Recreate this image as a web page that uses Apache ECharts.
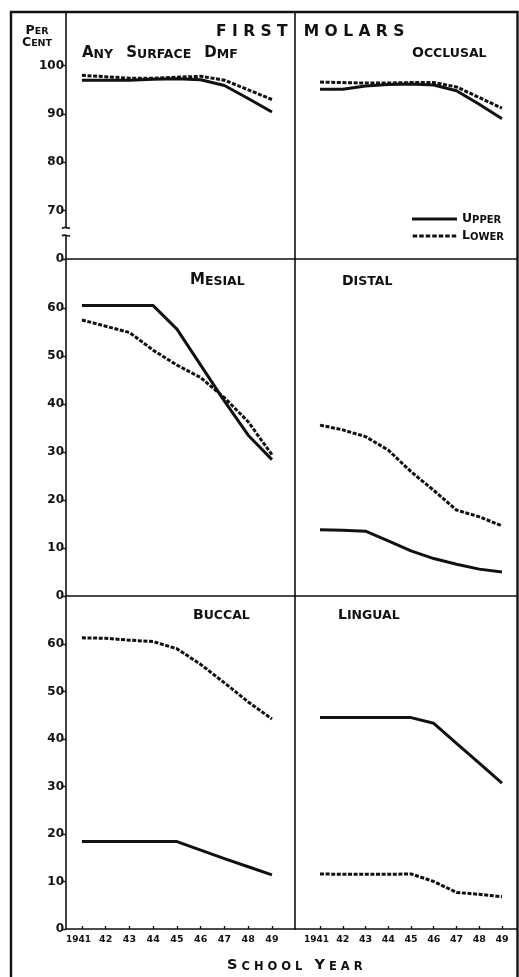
<!DOCTYPE html>
<html>
<head>
<meta charset="utf-8">
<script src="https://cdn.jsdelivr.net/npm/echarts@6/dist/echarts.min.js"></script>
<style>
html,body{margin:0;padding:0;background:#fff;}
#main{width:519px;height:977px;}
</style>
</head>
<body>
<div id="main"></div>
<script>
// school years on the x axis
var years = [1941, 1942, 1943, 1944, 1945, 1946, 1947, 1948, 1949];

// per cent of first molars
var anyUpper = [97.0, 97.0, 97.0, 97.2, 97.3, 97.1, 95.9, 93.2, 90.4];
var anyLower = [98.0, 97.7, 97.4, 97.4, 97.6, 97.8, 97.0, 95.0, 93.0];
var occUpper = [95.1, 95.1, 95.8, 96.1, 96.2, 96.0, 94.8, 92.0, 89.0];
var occLower = [96.6, 96.5, 96.4, 96.4, 96.5, 96.5, 95.6, 93.4, 91.2];
var mesUpper = [60.5, 60.5, 60.5, 60.5, 55.6, 48.1, 40.6, 33.5, 28.4];
var mesLower = [57.5, 56.2, 54.9, 51.2, 48.1, 45.5, 41.3, 36.3, 29.4];
var disUpper = [13.8, 13.7, 13.5, 11.5, 9.4, 7.8, 6.6, 5.6, 5.0];
var disLower = [35.6, 34.6, 33.2, 30.4, 25.9, 22.0, 17.9, 16.5, 14.6];
var bucUpper = [18.4, 18.4, 18.4, 18.4, 18.4, 16.6, 14.8, 13.1, 11.4];
var bucLower = [61.3, 61.2, 60.8, 60.5, 59.0, 55.7, 51.8, 47.8, 44.2];
var linUpper = [44.5, 44.5, 44.5, 44.5, 44.5, 43.3, 39.1, 34.9, 30.7];
var linLower = [11.6, 11.5, 11.5, 11.5, 11.6, 10.0, 7.7, 7.3, 6.8];

// tick labels
var topTicks = [60, 70, 80, 90, 100];   // 60 is shown as the broken-axis "0"
var lowTicks = [0, 10, 20, 30, 40, 50, 60];

var ink = '#111';
var font = 'DejaVu Sans';

// small caps: first letter of each word big, rest small
function sc(text){
	return text.split(' ').map(function(w){
		if (w === '') return '{s| }';
		return '{b|' + w.charAt(0) + '}' + (w.length > 1 ? '{s|' + w.slice(1) + '}' : '');
	}).join('{s| }');
}
function capTitle(text, left, top, big, small){
	return {
		text: sc(text), left: left, top: top, padding: 0,
		textStyle: {
			rich: {
				b: {fontFamily: font, fontWeight: 'bold', fontSize: big, color: ink, verticalAlign: 'bottom', lineHeight: big},
				s: {fontFamily: font, fontWeight: 'bold', fontSize: small, color: ink, verticalAlign: 'bottom', lineHeight: big}
			}
		}
	};
}

var grids = [
	{left: 66, top: 12, width: 229, height: 247},
	{left: 295, top: 12, width: 222, height: 247},
	{left: 66, top: 259, width: 229, height: 337},
	{left: 295, top: 259, width: 222, height: 337},
	{left: 66, top: 596, width: 229, height: 333},
	{left: 295, top: 596, width: 222, height: 333}
];

function xAx(g, min, max, show){
	return {
		type: 'value', gridIndex: g, min: min, max: max,
		axisLine: {show: true, onZero: false, lineStyle: {color: ink, width: 1.6}},
		axisTick: {show: show, inside: true, length: 3, customValues: years, lineStyle: {color: ink, width: 1.3}},
		axisLabel: {
			show: show, customValues: years, margin: 6, hideOverlap: false,
			fontFamily: font, fontWeight: 'bold', fontSize: 9.5, color: ink,
			formatter: function(v){ return v === 1941 ? '{w|1941}' : String(v).slice(2); },
			rich: {w: {fontFamily: font, fontWeight: 'bold', fontSize: 9, color: ink, padding: [0, 7, 0, 0]}}
		},
		splitLine: {show: false}
	};
}
function yAx(g, min, max, ticks, show){
	return {
		type: 'value', gridIndex: g, min: min, max: max,
		axisLine: {show: true, onZero: false, lineStyle: {color: ink, width: 1.6}},
		axisTick: {show: show, length: 4, customValues: ticks, lineStyle: {color: ink, width: 1.4}},
		axisLabel: {
			show: show, customValues: ticks, margin: 2,
			fontFamily: font, fontWeight: 'bold', fontSize: 12, color: ink,
			formatter: function(v){ return (g === 0 && v === 60) ? '0' : String(v); }
		},
		splitLine: {show: false}
	};
}

function pairs(vals){
	return years.map(function(y, i){ return [y, vals[i]]; });
}
function line(name, vals, g, dashed){
	return {
		name: name, type: 'line', xAxisIndex: g, yAxisIndex: g,
		data: pairs(vals), symbol: 'none', silent: true,
		itemStyle: {color: ink},
		lineStyle: dashed ? {color: ink, width: 3, type: [4, 1.6], cap: 'butt'} : {color: ink, width: 3},
		z: dashed ? 3 : 2
	};
}

// legend icons: a solid bar and a row of short dashes
var solidIcon = 'path://M0,0h45v3h-45z';
var dashIcon = 'path://';
for (var k = 0; k < 7; k++) dashIcon += 'M' + (k * 6.5) + ',0h4.5v3h-4.5z';

var option = {
	animation: false,
	backgroundColor: '#fff',
	grid: grids,
	xAxis: [
		xAx(0, 1940.33, 1949.97, false), xAx(1, 1939.9, 1949.66, false),
		xAx(2, 1940.33, 1949.97, false), xAx(3, 1939.9, 1949.66, false),
		xAx(4, 1940.33, 1949.97, true), xAx(5, 1939.9, 1949.66, true)
	],
	yAxis: [
		yAx(0, 60, 111.1, topTicks, true), yAx(1, 60, 111.1, topTicks, false),
		yAx(2, 0, 70.2, lowTicks, true), yAx(3, 0, 70.2, lowTicks, false),
		yAx(4, 0, 70.1, lowTicks, true), yAx(5, 0, 70.1, lowTicks, false)
	],
	title: [
		{text: 'F I R S T   M O L A R S', left: 216, top: 24, padding: 0,
			textStyle: {fontFamily: font, fontWeight: 'bold', fontSize: 15.5, color: ink}},
		{text: '{b|P}{s|ER}\n{b|C}{s|ENT}', left: 37, top: 25, padding: 0, textAlign: 'center',
			textStyle: {align: 'center', rich: {
				b: {fontFamily: font, fontWeight: 'bold', fontSize: 12.5, color: ink, lineHeight: 12, verticalAlign: 'bottom'},
				s: {fontFamily: font, fontWeight: 'bold', fontSize: 9.5, color: ink, lineHeight: 12, verticalAlign: 'bottom'}
			}}},
		{text: '{b|S}{s| C H O O L   }{b|Y}{s| E A R}', left: 227, top: 958, padding: 0,
			textStyle: {rich: {
				b: {fontFamily: font, fontWeight: 'bold', fontSize: 14.5, color: ink, lineHeight: 15, verticalAlign: 'bottom'},
				s: {fontFamily: font, fontWeight: 'bold', fontSize: 11.5, color: ink, lineHeight: 15, verticalAlign: 'bottom'}
			}}},
		capTitle('ANY  SURFACE  DMF', 82, 46, 15, 12.5),
		capTitle('OCCLUSAL', 412, 46, 14, 12.5),
		capTitle('MESIAL', 190, 273, 15, 12.5),
		capTitle('DISTAL', 342, 274, 14, 12.5),
		capTitle('BUCCAL', 193, 608, 14, 12.5),
		capTitle('LINGUAL', 338, 608, 14, 12.5)
	],
	legend: {
		data: [{name: 'Upper', icon: solidIcon}, {name: 'Lower', icon: dashIcon}],
		orient: 'vertical', right: 15, top: 212,
		itemWidth: 45, itemHeight: 3, itemGap: 4, selectedMode: false, padding: 0,
		itemStyle: {color: ink, borderWidth: 0},
		formatter: function(n){ return n === 'Upper' ? '{b|U}{s|PPER}' : '{b|L}{s|OWER}'; },
		textStyle: {rich: {
			b: {fontFamily: font, fontWeight: 'bold', fontSize: 12.5, color: ink, lineHeight: 12, verticalAlign: 'bottom'},
			s: {fontFamily: font, fontWeight: 'bold', fontSize: 10, color: ink, lineHeight: 12, verticalAlign: 'bottom'}
		}}
	},
	series: [
		line('Upper', anyUpper, 0, false), line('Lower', anyLower, 0, true),
		line('Upper', occUpper, 1, false), line('Lower', occLower, 1, true),
		line('Upper', mesUpper, 2, false), line('Lower', mesLower, 2, true),
		line('Upper', disUpper, 3, false), line('Lower', disLower, 3, true),
		line('Upper', bucUpper, 4, false), line('Lower', bucLower, 4, true),
		line('Upper', linUpper, 5, false), line('Lower', linLower, 5, true)
	]
};

var chart = echarts.init(document.getElementById('main'), null, {renderer: 'canvas'});
chart.setOption(option);

// frame and the break in the top y axis
var b1 = chart.convertToPixel({gridIndex: 0}, [1940.33, 66.5]);
var b2 = chart.convertToPixel({gridIndex: 0}, [1940.33, 64.8]);
var ax = grids[0].left;
chart.setOption({
	graphic: [
		{type: 'polyline', shape: {points: [[11, 977], [11, 12], [517.5, 12], [517.5, 977]]},
			style: {stroke: ink, lineWidth: 2.4, fill: null}, z: 10},
		{type: 'rect', shape: {x: ax - 3, y: b1[1], width: 6, height: b2[1] - b1[1]},
			style: {fill: '#fff'}, z: 10},
		{type: 'bezierCurve', shape: {x1: ax - 4, y1: b1[1] + 1, cpx1: ax - 1, cpy1: b1[1] - 2, x2: ax + 4, y2: b1[1], cpx2: ax + 1, cpy2: b1[1] + 2},
			style: {stroke: ink, lineWidth: 1.6, fill: null}, z: 11},
		{type: 'bezierCurve', shape: {x1: ax - 4, y1: b2[1], cpx1: ax - 1, cpy1: b2[1] - 2, x2: ax + 4, y2: b2[1], cpx2: ax + 1, cpy2: b2[1] + 1},
			style: {stroke: ink, lineWidth: 1.6, fill: null}, z: 11}
	]
});
</script>
</body>
</html>
